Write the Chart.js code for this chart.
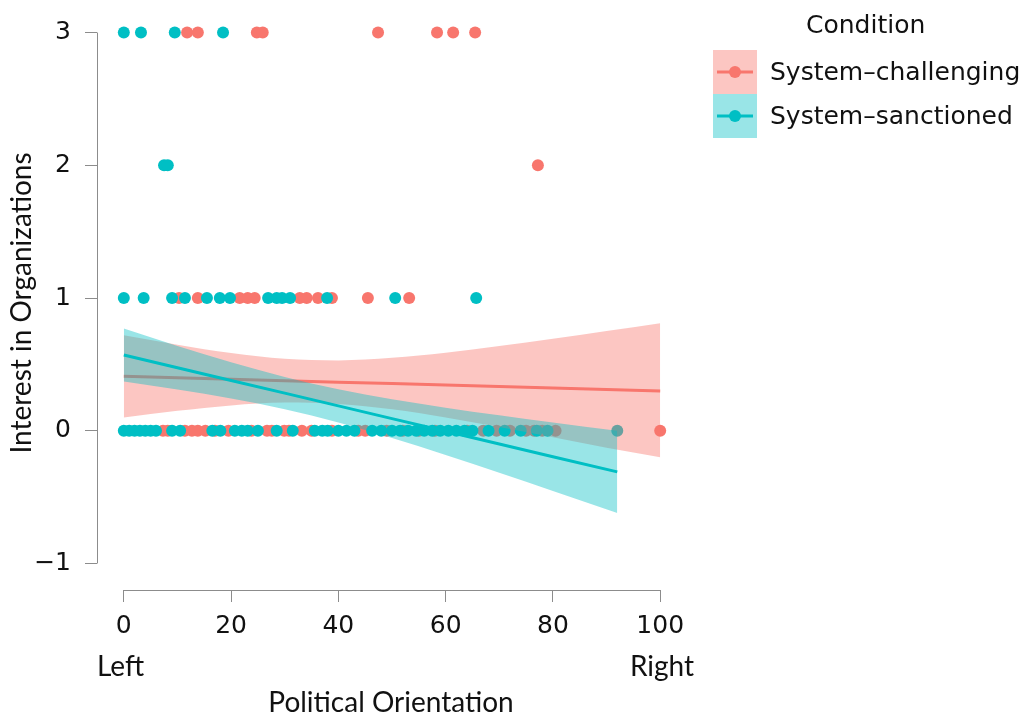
<!DOCTYPE html>
<html>
<head>
<meta charset="utf-8">
<script src="https://cdn.jsdelivr.net/npm/chart.js@4.4.1/dist/chart.umd.min.js"></script>
<style>
  html, body { margin: 0; padding: 0; background: #ffffff; }
  canvas { display: block; }
</style>
</head>
<body>
<canvas id="chart" width="1024" height="715"></canvas>
<script>
// Axis ticks
const xTicks = [0, 20, 40, 60, 80, 100];
const yTicks = [-1, 0, 1, 2, 3];
const yTickLabels = ['−1', '0', '1', '2', '3'];

// Series names
const seriesNames = ['System–challenging', 'System–sanctioned'];

// System-challenging: political orientation of respondents at each interest level
const challengingAt0 = [7.3, 8.2, 11.4, 12.7, 13.8, 15.2, 17, 19.5, 23.8, 26.7, 27.6, 29.9, 30.8, 33.2, 35, 38.8, 43.7, 45, 49, 52, 55, 58, 64, 67, 69.5, 72, 75, 76.5, 78, 80.5, 100];
const challengingAt1 = [10.3, 13.8, 21.6, 23.1, 24.4, 32.8, 34.1, 36.2, 38.8, 45.5, 53.2];
const challengingAt2 = [77.2];
const challengingAt3 = [11.8, 13.8, 24.8, 25.9, 47.4, 58.4, 61.4, 65.5];

// System-sanctioned
const sanctionedAt0 = [0, 1, 2, 3, 4, 5, 6, 9, 10.5, 16.5, 18, 20.7, 22, 23.1, 25, 28.5, 31.5, 35.6, 37, 38, 40, 41.5, 43, 46.3, 48, 50, 51.5, 53, 54.5, 56, 57.5, 59, 60.5, 62, 63.5, 65, 68, 71, 74, 77, 79, 92];
const sanctionedAt1 = [0, 3.7, 9.0, 11.4, 15.5, 17.9, 19.8, 26.9, 28.5, 29.5, 31.0, 37.9, 50.6, 65.7];
const sanctionedAt2 = [7.5, 8.2];
const sanctionedAt3 = [0, 3.2, 9.5, 18.5];

// Linear fits with confidence bands
const challengingFitX = [0, 10, 20, 30, 40, 50, 60, 70, 80, 90, 100];
const challengingFit = [0.41, 0.399, 0.388, 0.377, 0.366, 0.355, 0.344, 0.333, 0.322, 0.311, 0.30];
const challengingUpper = [0.72, 0.648, 0.585, 0.542, 0.530, 0.549, 0.588, 0.638, 0.693, 0.751, 0.81];
const challengingLower = [0.10, 0.150, 0.191, 0.212, 0.202, 0.161, 0.100, 0.028, -0.049, -0.129, -0.20];

const sanctionedFitX = [0, 10, 20, 30, 40, 50, 60, 70, 80, 92];
const sanctionedFit = [0.57, 0.474, 0.379, 0.283, 0.187, 0.091, -0.004, -0.10, -0.196, -0.31];
const sanctionedUpper = [0.77, 0.638, 0.515, 0.404, 0.312, 0.237, 0.174, 0.116, 0.062, 0.0];
const sanctionedLower = [0.37, 0.31, 0.243, 0.162, 0.062, -0.055, -0.182, -0.316, -0.454, -0.62];

const RED = '#F8766D';
const CYAN = '#00BFC4';
const RED_BAND = 'rgba(248,118,109,0.42)';
const CYAN_BAND = 'rgba(0,191,196,0.40)';
const TICK_FONT = '"DejaVu Sans", sans-serif';
const TITLE_FONT = 'Lato, "Open Sans", sans-serif';

function levelPoints(levels) {
  const pts = [];
  levels.forEach((xs, level) => xs.forEach(x => pts.push({ x: x, y: level })));
  return pts;
}
function zipXY(xs, ys) { return xs.map((x, i) => ({ x: x, y: ys[i] })); }

const challengingPoints = levelPoints([challengingAt0, challengingAt1, challengingAt2, challengingAt3]);
const sanctionedPoints = levelPoints([sanctionedAt0, sanctionedAt1, sanctionedAt2, sanctionedAt3]);

const bandLine = { showLine: true, pointRadius: 0, borderWidth: 0, cubicInterpolationMode: 'monotone' };

// Axis lines spanning only the tick range, titles and the legend
const decorations = {
  id: 'decorations',
  afterDraw(chart) {
    const { ctx, scales, chartArea } = chart;
    const xs = scales.x, ys = scales.y;
    ctx.save();
    ctx.strokeStyle = '#8c8c8c';
    ctx.lineWidth = 1;
    ctx.beginPath();
    const ax = Math.round(chartArea.left) + 0.5;
    ctx.moveTo(ax, ys.getPixelForValue(yTicks[yTicks.length - 1]));
    ctx.lineTo(ax, ys.getPixelForValue(yTicks[0]));
    const ay = Math.round(chartArea.bottom) + 0.5;
    ctx.moveTo(xs.getPixelForValue(xTicks[0]), ay);
    ctx.lineTo(xs.getPixelForValue(xTicks[xTicks.length - 1]), ay);
    ctx.stroke();

    ctx.fillStyle = '#111111';
    ctx.textBaseline = 'middle';
    ctx.font = '28px ' + TITLE_FONT;
    ctx.textAlign = 'left';
    ctx.fillText('Left', 97, 667);
    ctx.textAlign = 'right';
    ctx.fillText('Right', 694, 667);
    ctx.textAlign = 'center';
    ctx.fillText('Political Orientation', 391, 703);

    ctx.save();
    ctx.translate(22, 303);
    ctx.rotate(-Math.PI / 2);
    ctx.fillText('Interest in Organizations', 0, 0);
    ctx.restore();

    // Legend
    ctx.font = '25px ' + TICK_FONT;
    ctx.textAlign = 'left';
    ctx.fillText('Condition', 806, 26);
    const keys = [[RED_BAND, RED, 50], [CYAN_BAND, CYAN, 94]];
    keys.forEach(([band, col, top], i) => {
      ctx.fillStyle = band;
      ctx.fillRect(713, top, 44, 44);
      ctx.strokeStyle = col;
      ctx.lineWidth = 3;
      ctx.beginPath();
      ctx.moveTo(717, top + 22);
      ctx.lineTo(753, top + 22);
      ctx.stroke();
      ctx.fillStyle = col;
      ctx.beginPath();
      ctx.arc(735, top + 22, 6, 0, Math.PI * 2);
      ctx.fill();
      ctx.fillStyle = '#111111';
      ctx.fillText(seriesNames[i], 770, top + 23);
    });
    ctx.restore();
  }
};

new Chart(document.getElementById('chart'), {
  type: 'scatter',
  data: {
    datasets: [
      { label: seriesNames[0], data: challengingPoints, backgroundColor: RED, borderWidth: 0, pointRadius: 6, order: 6 },
      { label: seriesNames[1], data: sanctionedPoints, backgroundColor: CYAN, borderWidth: 0, pointRadius: 6, order: 5 },
      Object.assign({ data: zipXY(challengingFitX, challengingLower), fill: false, order: 4 }, bandLine),
      Object.assign({ data: zipXY(challengingFitX, challengingUpper), fill: 2, backgroundColor: RED_BAND, order: 4 }, bandLine),
      { data: zipXY(challengingFitX, challengingFit), showLine: true, pointRadius: 0, borderColor: RED, borderWidth: 3, fill: false, order: 3 },
      Object.assign({ data: zipXY(sanctionedFitX, sanctionedLower), fill: false, order: 2 }, bandLine),
      Object.assign({ data: zipXY(sanctionedFitX, sanctionedUpper), fill: 5, backgroundColor: CYAN_BAND, order: 2 }, bandLine),
      { data: zipXY(sanctionedFitX, sanctionedFit), showLine: true, pointRadius: 0, borderColor: CYAN, borderWidth: 3, fill: false, order: 1 }
    ]
  },
  options: {
    responsive: false,
    animation: false,
    layout: { padding: { top: 5, right: 337, bottom: 0, left: 0 } },
    plugins: { legend: { display: false }, tooltip: { enabled: false } },
    scales: {
      x: {
        type: 'linear',
        min: -5, max: 105,
        afterBuildTicks: s => { s.ticks = xTicks.map(v => ({ value: v })); },
        afterFit: s => { s.height = 125; s.paddingLeft = 0; s.paddingRight = 0; },
        border: { display: false },
        grid: { drawOnChartArea: false, drawTicks: true, tickLength: 12, tickColor: '#8c8c8c', tickWidth: 1 },
        ticks: { color: '#111111', font: { family: TICK_FONT, size: 25 }, padding: 9, maxRotation: 0,
                 callback: v => String(v) }
      },
      y: {
        type: 'linear',
        min: -1.2, max: 3.2,
        afterBuildTicks: s => { s.ticks = yTicks.map(v => ({ value: v })); },
        afterFit: s => { s.width = 97; s.paddingTop = 0; s.paddingBottom = 0; },
        border: { display: false },
        grid: { drawOnChartArea: false, drawTicks: true, tickLength: 12, tickColor: '#8c8c8c', tickWidth: 1 },
        ticks: { color: '#111111', font: { family: TICK_FONT, size: 25 }, padding: 14,
                 callback: v => yTickLabels[yTicks.indexOf(v)] }
      }
    }
  },
  plugins: [decorations]
});
</script>
</body>
</html>
